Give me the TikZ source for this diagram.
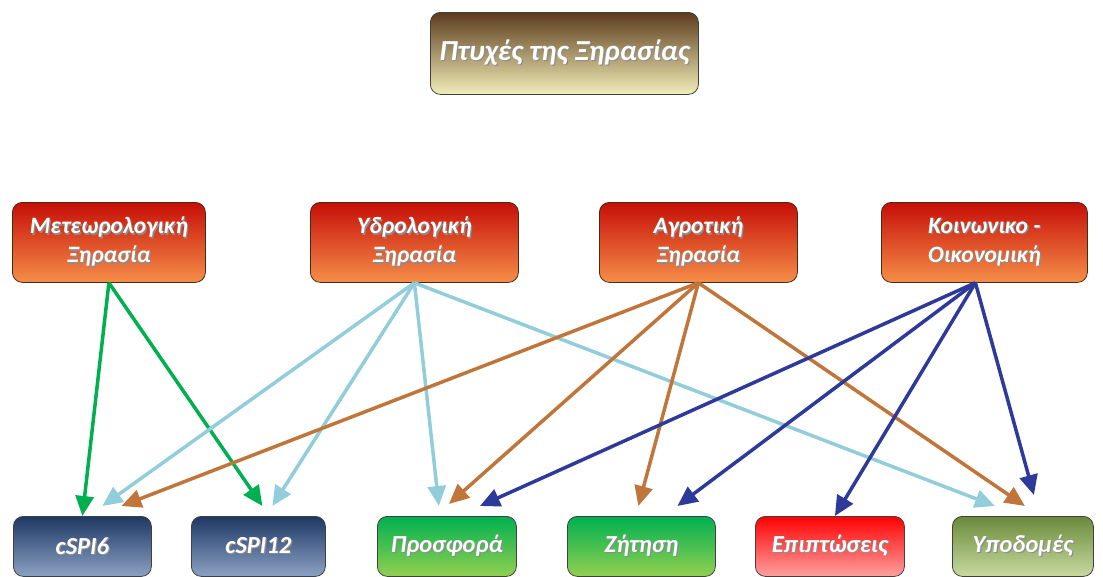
\documentclass[tikz,border=0pt]{standalone}
\usepackage{fontspec}
\setmainfont{Carlito}
\usetikzlibrary{arrows.meta}

\definecolor{titletop}{RGB}{92,60,30}
\definecolor{titlebot}{RGB}{242,238,184}
\definecolor{redtop}{RGB}{198,14,8}
\definecolor{redbot}{RGB}{246,142,72}
\definecolor{navytop}{RGB}{30,56,100}
\definecolor{navybot}{RGB}{140,162,196}
\definecolor{greentop}{RGB}{0,176,80}
\definecolor{greenbot}{RGB}{146,208,80}
\definecolor{pinktop}{RGB}{255,0,0}
\definecolor{pinkbot}{RGB}{255,160,160}
\definecolor{olivetop}{RGB}{106,138,58}
\definecolor{olivebot}{RGB}{200,218,160}
\definecolor{arrgreen}{RGB}{0,176,80}
\definecolor{arrlblue}{RGB}{146,205,220}
\definecolor{arrbrown}{RGB}{192,118,58}
\definecolor{arrdblue}{RGB}{46,58,154}

% white label text with a soft dark drop shadow
\newcommand{\shd}[1]{\rlap{\kern1.2pt\raisebox{-1.2pt}{\textcolor{black!45}{#1}}}#1}

\begin{document}
\begin{tikzpicture}[x=1pt,y=-1pt,
  box/.style={rounded corners=10pt, line width=0.8pt, anchor=north west,
    inner sep=0pt, align=center, text=white},
  titlebox/.style={box, draw=black!75, top color=titletop, bottom color=titlebot,
    font=\bfseries\itshape\fontsize{29}{34}\selectfont},
  aspectbox/.style={box, draw=black!65!brown, top color=redtop, bottom color=redbot,
    minimum height=80pt, font=\bfseries\itshape\fontsize{23.5}{29}\selectfont},
  outbox/.style={box, draw=black!75, minimum height=60pt,
    font=\bfseries\itshape\fontsize{24.5}{28}\selectfont},
  navybox/.style={outbox, top color=navytop, bottom color=navybot},
  greenbox/.style={outbox, top color=greentop, bottom color=greenbot},
  pinkbox/.style={outbox, top color=pinktop, bottom color=pinkbot},
  olivebox/.style={outbox, top color=olivetop, bottom color=olivebot},
  conn/.style={draw=#1, line width=3.5pt, -{Triangle[length=20pt,width=18pt]}}]

\useasboundingbox (0,0) rectangle (1103,576);

% title
\node[titlebox, minimum width=268pt, minimum height=82pt] (title) at (430,12) {\shd{Πτυχές της Ξηρασίας}};

% drought aspects
\node[aspectbox, minimum width=193pt] (meteo) at (12,202) {\shd{Μετεωρολογική}\\\shd{Ξηρασία}};
\node[aspectbox, minimum width=208pt] (hydro) at (310,202) {\shd{Υδρολογική}\\\shd{Ξηρασία}};
\node[aspectbox, minimum width=198pt] (agro)  at (599,202) {\shd{Αγροτική}\\\shd{Ξηρασία}};
\node[aspectbox, minimum width=206pt] (socio) at (881,202) {\shd{Κοινωνικο -}\\\shd{Οικονομική}};

% indices and impacts
\node[navybox,  minimum width=138pt] (cspisix)  at (13,516)  {\shd{cSPI6}};
\node[navybox,  minimum width=134pt] (cspitw)   at (191,516) {\shd{cSPI12}};
\node[greenbox, minimum width=139pt] (supply)   at (377,516) {\shd{Προσφορά}};
\node[greenbox, minimum width=148pt] (demand)   at (567,516) {\shd{Ζήτηση}};
\node[pinkbox,  minimum width=149pt] (impact)   at (755,516) {\shd{Επιπτώσεις}};
\node[olivebox, minimum width=141pt] (infra)    at (952,516) {\shd{Υποδομές}};

% meteorological
\draw[conn=arrgreen] (meteo.south) -- (cspisix.north);
\draw[conn=arrgreen] (meteo.south) -- ([xshift=4pt,yshift=10pt]cspitw.north);

% hydrological
\draw[conn=arrlblue] (hydro.south) -- ([xshift=20pt,yshift=10pt]cspisix.north);
\draw[conn=arrlblue] (hydro.south) -- ([xshift=14pt,yshift=10pt]cspitw.north);
\draw[conn=arrlblue] (hydro.south) -- ([xshift=-8pt,yshift=10pt]supply.north);
\draw[conn=arrlblue] (hydro.south) -- ([xshift=-28pt,yshift=10pt]infra.north);

% agricultural
\draw[conn=arrbrown] (agro.south) -- ([xshift=39pt,yshift=10pt]cspisix.north);
\draw[conn=arrbrown] (agro.south) -- ([xshift=2pt,yshift=12pt]supply.north);
\draw[conn=arrbrown] (agro.south) -- ([xshift=-3pt,yshift=10pt]demand.north);
\draw[conn=arrbrown] (agro.south) -- ([xshift=2pt,yshift=10pt]infra.north);

% socio-economic
\draw[conn=arrdblue] ([xshift=-9pt]socio.south) -- ([xshift=33pt,yshift=10pt]supply.north);
\draw[conn=arrdblue] ([xshift=-9pt]socio.south) -- ([xshift=36pt,yshift=10pt]demand.north);
\draw[conn=arrdblue] ([xshift=-9pt]socio.south) -- ([xshift=5pt]impact.north);
\draw[conn=arrdblue] ([xshift=-9pt]socio.south) -- ([xshift=11pt,yshift=21pt]infra.north);

\end{tikzpicture}
\end{document}
